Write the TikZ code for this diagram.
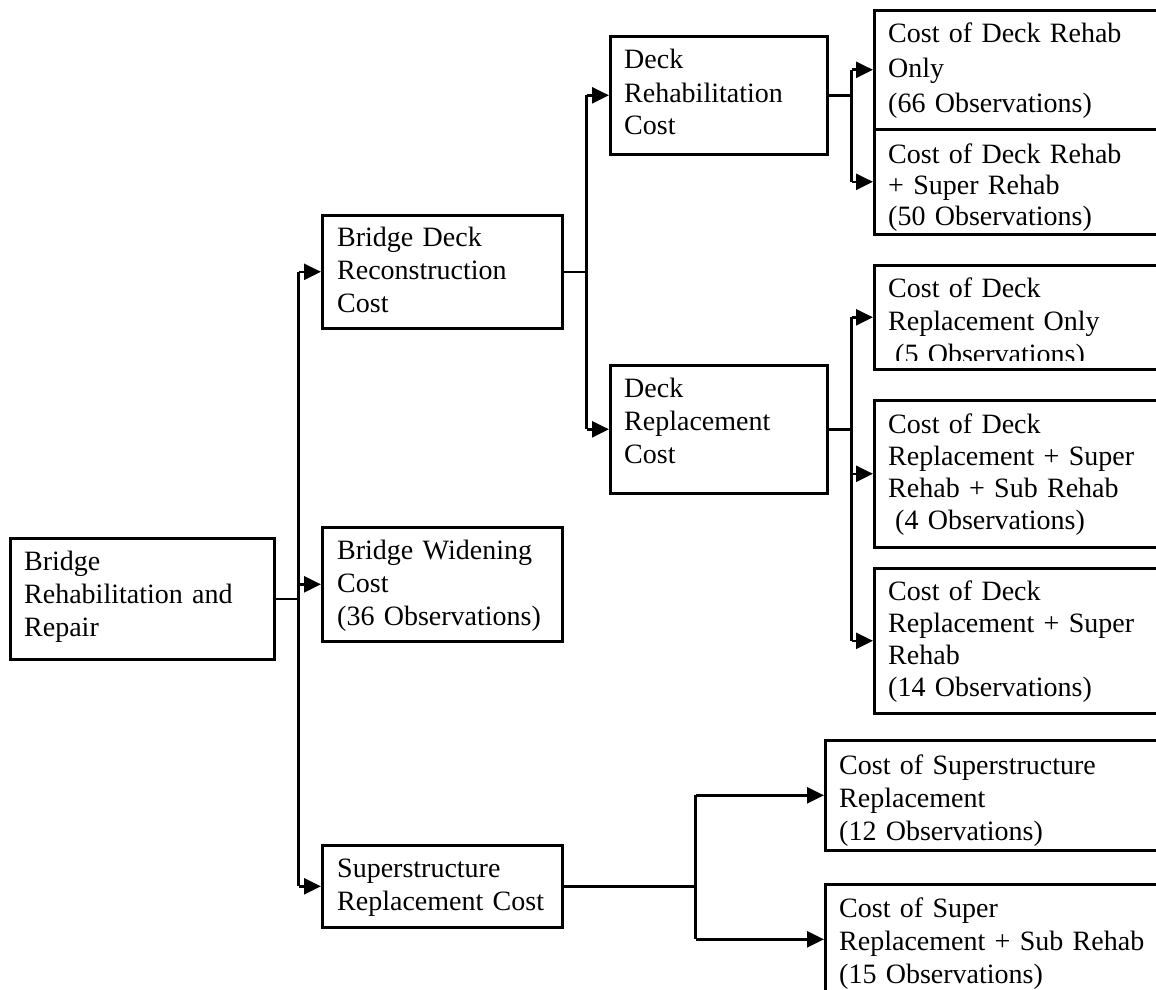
\documentclass[tikz,border=0pt]{standalone}
\usepackage{fontspec}
\setmainfont{Liberation Serif}
\usetikzlibrary{arrows.meta}
\tikzset{
  box/.style={draw, line width=2.6pt, inner sep=0pt, anchor=north west},
  txt/.style={anchor=base west, inner sep=0pt, text width=340pt, align=left,
    font=\fontsize{28}{33}\selectfont},
  conn/.style={line width=2.6pt},
  arr/.style={line width=2.6pt, -{Triangle[length=17pt,width=16pt]}}
}
\begin{document}
\begin{tikzpicture}[x=1pt,y=-1pt]
\useasboundingbox (0,0) rectangle (1156,990);
\clip (0,0) rectangle (1156,990);
% boxes
\node[box, minimum width=264pt, minimum height=121pt] (A) at (9,537) {};
\node[box, minimum width=240pt, minimum height=113pt] (B) at (321,214) {};
\node[box, minimum width=240pt, minimum height=114pt] (W) at (321,526) {};
\node[box, minimum width=240pt, minimum height=82pt] (G) at (321,844) {};
\node[box, minimum width=217pt, minimum height=118pt] (C) at (609,35) {};
\node[box, minimum width=217pt, minimum height=128pt] (D) at (609,364) {};
\node[box, minimum width=300pt, minimum height=119pt] (E1) at (873,9) {};
\node[box, minimum width=300pt, minimum height=105pt] (E2) at (873,128) {};
\node[box, minimum width=300pt, minimum height=104pt] (F1) at (873,264) {};
\node[box, minimum width=300pt, minimum height=147pt] (F2) at (873,399) {};
\node[box, minimum width=300pt, minimum height=145pt] (F3) at (873,567) {};
\node[box, minimum width=350pt, minimum height=110pt] (H1) at (824,739) {};
\node[box, minimum width=350pt, minimum height=110pt] (H2) at (824,883) {};
% texts
\node[txt] (tA) at (24,570) {Bridge\\Rehabilitation and\\Repair};
\node[txt] (tB) at (337,246) {Bridge Deck\\Reconstruction\\Cost};
\node[txt] (tW) at (337,559) {Bridge Widening\\Cost\\(36 Observations)};
\node[txt] (tG) at (337,877) {Superstructure\\Replacement Cost};
\node[txt] (tC) at (624,69) {Deck\\Rehabilitation\\Cost};
\node[txt] (tD) at (624,397) {Deck\\Replacement\\Cost};
\node[txt, font=\fontsize{28}{35}\selectfont] (tE1) at (888,43) {Cost of Deck Rehab\\Only\\(66 Observations)};
\node[txt, font=\fontsize{28}{31}\selectfont] (tE2) at (888,163) {Cost of Deck Rehab\\+ Super Rehab\\(50 Observations)};
\begin{scope}
\clip (873,264) rectangle (1156,360);
\node[txt] (tF1) at (888,297) {Cost of Deck\\Replacement Only\\\hspace*{7pt}(5 Observations)};
\end{scope}
\node[txt, font=\fontsize{28}{32}\selectfont] (tF2) at (888,433) {Cost of Deck\\Replacement + Super\\Rehab + Sub Rehab\\\hspace*{7pt}(4 Observations)};
\node[txt, font=\fontsize{28}{32.3}\selectfont] (tF3) at (888,600) {Cost of Deck\\Replacement + Super\\Rehab\\(14 Observations)};
\node[txt] (tH1) at (839,774) {Cost of Superstructure\\Replacement\\(12 Observations)};
\node[txt] (tH2) at (839,917) {Cost of Super\\Replacement + Sub Rehab\\(15 Observations)};
% junctions
\coordinate (j1) at ([xshift=23pt]A.east);
\coordinate (j2) at ([xshift=23pt]B.east);
\coordinate (j3) at ([xshift=23pt]C.east);
\coordinate (j4) at ([xshift=23pt]D.east);
\coordinate (j5) at ([xshift=132pt]G.east);
% level 1
\draw[conn] (A.east) -- (j1);
\draw[conn] (j1 |- B.west) -- (j1 |- G.west);
\draw[arr] (j1 |- B.west) -- (B.west);
\draw[arr] (j1 |- W.west) -- (W.west);
\draw[arr] (j1 |- G.west) -- (G.west);
% level 2
\draw[conn] (B.east) -- (j2);
\draw[conn] (j2 |- C.west) -- (j2 |- D.west);
\draw[arr] (j2 |- C.west) -- (C.west);
\draw[arr] (j2 |- D.west) -- (D.west);
% level 3
\draw[conn] (C.east) -- (j3);
\draw[conn] (j3 |- E1.west) -- (j3 |- E2.west);
\draw[arr] (j3 |- E1.west) -- (E1.west);
\draw[arr] (j3 |- E2.west) -- (E2.west);
\draw[conn] (D.east) -- (j4);
\draw[conn] (j4 |- F1.west) -- (j4 |- F3.west);
\draw[arr] (j4 |- F1.west) -- (F1.west);
\draw[arr] (j4 |- F2.west) -- (F2.west);
\draw[arr] (j4 |- F3.west) -- (F3.west);
\draw[conn] (G.east) -- (j5);
\draw[conn] (j5 |- H1.west) -- (j5 |- H2.west);
\draw[arr] (j5 |- H1.west) -- (H1.west);
\draw[arr] (j5 |- H2.west) -- (H2.west);
\end{tikzpicture}
\end{document}
